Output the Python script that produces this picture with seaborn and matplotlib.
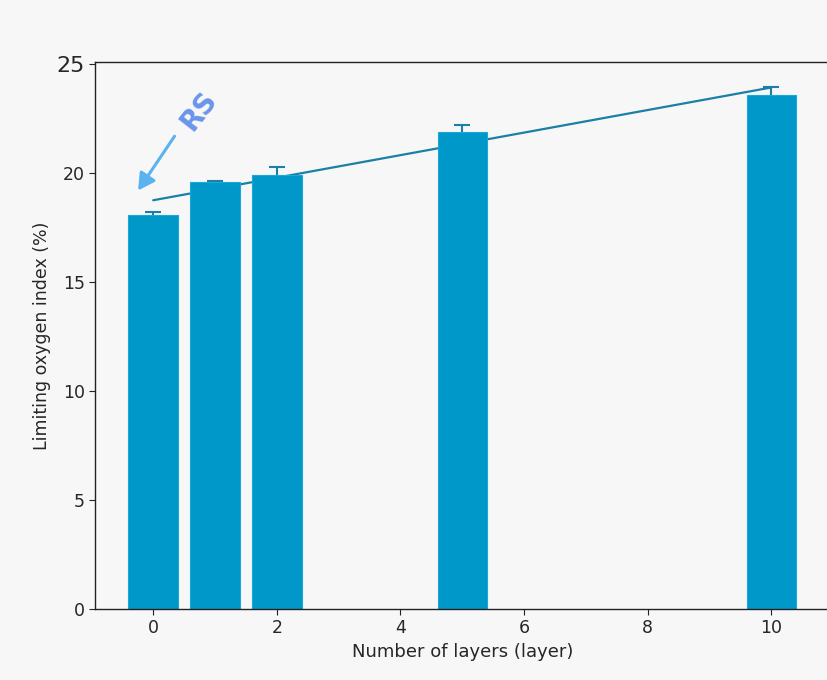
import numpy as np
import matplotlib
matplotlib.use("Agg")
import matplotlib.pyplot as plt
import seaborn as sns
import pandas as pd

# 数据
layers = [0, 1, 2, 5, 10]
loi = [18.1, 19.6, 19.9, 21.9, 23.6]
loi_err = [0.12, 0.05, 0.4, 0.3, 0.35]
y_ticks = [0, 5, 10, 15, 20, 25]

bar_color = "#0097c9"
line_color = "#1b7fa6"
bg = "#f7f7f7"

sns.set_style("ticks")
plt.rcParams['font.family'] = ['DejaVu Sans']

fig = plt.figure(figsize=(8.27, 6.8), dpi=100, facecolor=bg)
ax = fig.add_axes([0.115, 0.1044, 0.888, 0.8044])
ax.set_facecolor(bg)

df = pd.DataFrame({"layers": layers, "loi": loi})

# 误差线和拟合线都放在柱子后面
ax.errorbar(layers, loi, yerr=loi_err, fmt="none", ecolor=line_color,
            elinewidth=1.5, capsize=6, capthick=1.5, zorder=1)
sns.regplot(data=df, x="layers", y="loi", scatter=False, ci=None, truncate=True,
            color=line_color, line_kws={"lw": 1.6, "zorder": 1}, ax=ax)
sns.barplot(data=df, x="layers", y="loi", native_scale=True, color=bar_color,
            saturation=1, errorbar=None, edgecolor="#19a9d8", linewidth=0.8,
            ax=ax, zorder=2)

ax.set_xlim(-0.94, 10.94)
ax.set_ylim(0, 25.1)
ax.set_xticks([0, 2, 4, 6, 8, 10])
ax.set_yticks(y_ticks)
ax.tick_params(labelsize=12.5, length=4, color="#222222")
for lab in ax.get_yticklabels():
    if lab.get_text() == "25":
        lab.set_fontsize(16)
ax.set_xlabel("Number of layers (layer)", fontsize=13)
ax.set_ylabel("Limiting oxygen index (%)", fontsize=12.5)

for s in ax.spines.values():
    s.set_color("#222222")
    s.set_linewidth(1.0)

# RS 标注
ax.annotate("", xy=(-0.27, 19.1), xytext=(0.37, 21.8),
            arrowprops=dict(arrowstyle="-|>,head_length=1.0,head_width=0.55",
                            color="#5ab2f0", lw=2.2))
ax.text(0.74, 22.85, "RS", rotation=52, fontsize=20, fontweight="bold",
        color="#6a95ea", ha="center", va="center")

fig.savefig("out.png", dpi=100, facecolor=bg)
